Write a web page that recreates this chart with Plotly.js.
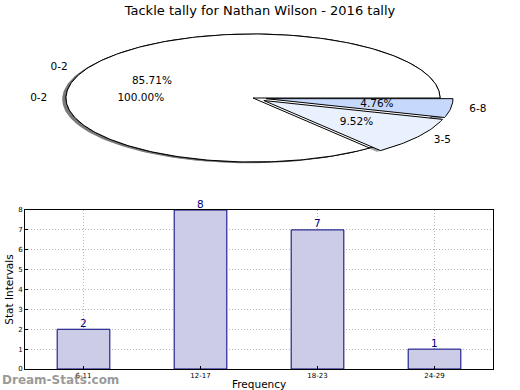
<!DOCTYPE html>
<html>
<head>
<meta charset="utf-8">
<script src="https://cdn.plot.ly/plotly-3.0.1.min.js"></script>
<style>html,body{margin:0;padding:0;background:#fff}#chart{width:520px;height:390px}</style>
</head>
<body>
<div id="chart"></div>
<script>
// ---- data ----
const pieLabels = ['0-2', '3-5', '6-8'];
const pieValues = [18, 2, 1];
const pie2Labels = ['0-2'];
const pie2Values = [1];
const barCategories = ['6-11', '12-17', '18-23', '24-29'];
const barValues = [2, 8, 7, 1];
const yTickValues = [0, 1, 2, 3, 4, 5, 6, 7, 8];
const xTitle = 'Frequency';
const yTitle = 'Stat Intervals';

// ---- styles ----
const pieColors = ['#ffffff', 'rgb(234,241,254)', 'rgb(198,217,253)'];
const pieExplode = [0, 0.07, 0.07];
const FONT = 'DejaVu Sans, sans-serif';

function wedgeTraces(labels, values, colors, explode) {
  const total = values.reduce((a, b) => a + b, 0);
  const shadows = [], wedges = [], texts = [];
  let start = 0;
  values.forEach((v, i) => {
    const frac = v / total;
    const t1 = start * 360, t2 = (start + frac) * 360;
    const mid = (t1 + t2) / 2 * Math.PI / 180;
    const e = explode ? explode[i] : 0;
    const ox = e * Math.cos(mid), oy = e * Math.sin(mid);
    const xs = [], ys = [];
    const full = frac >= 0.9999;
    if (!full) { xs.push(ox); ys.push(oy); }
    const n = Math.max(2, Math.ceil(t2 - t1));
    for (let k = 0; k <= n; k++) {
      const t = (t1 + (t2 - t1) * k / n) * Math.PI / 180;
      xs.push(ox + Math.cos(t)); ys.push(oy + Math.sin(t));
    }
    if (!full) { xs.push(ox); ys.push(oy); }
    const rgb = colors[i].match(/\d+/g);
    let shadowCol = 'rgba(77,77,77,0.5)';
    if (colors[i].startsWith('rgb')) {
      shadowCol = `rgba(${Math.round(rgb[0]*0.3)},${Math.round(rgb[1]*0.3)},${Math.round(rgb[2]*0.3)},0.5)`;
    }
    shadows.push({
      type: 'scatter', mode: 'lines', xaxis: 'x2', yaxis: 'y2',
      x: xs.map(x => x - 0.02), y: ys.map(y => y - 0.02), fill: 'toself',
      fillcolor: shadowCol, line: {width: 0, color: 'rgba(0,0,0,0)'},
      hoverinfo: 'skip', showlegend: false
    });
    wedges.push({
      type: 'scatter', mode: 'lines', xaxis: 'x2', yaxis: 'y2',
      x: xs, y: ys, fill: 'toself', fillcolor: colors[i],
      line: {width: 1, color: '#000'}, hoverinfo: 'skip', showlegend: false
    });
    const cm = Math.cos(mid), sm = Math.sin(mid);
    texts.push({
      type: 'scatter', mode: 'text', xaxis: 'x2', yaxis: 'y2',
      x: [ox + 1.1 * cm], y: [oy + 1.1 * sm], text: [labels[i]],
      textposition: cm < 0 ? 'middle left' : 'middle right',
      textfont: {family: FONT, size: 10.5, color: '#000'},
      cliponaxis: false, hoverinfo: 'skip', showlegend: false
    });
    texts.push({
      type: 'scatter', mode: 'text', xaxis: 'x2', yaxis: 'y2',
      x: [ox + 0.6 * cm], y: [oy + 0.6 * sm], text: [(frac * 100).toFixed(2) + '%'],
      textposition: 'middle center',
      textfont: {family: FONT, size: 10.5, color: '#000'},
      cliponaxis: false, hoverinfo: 'skip', showlegend: false
    });
    start += frac;
  });
  return {shadows, wedges, texts};
}

const p2 = wedgeTraces(pie2Labels, pie2Values, ['#ffffff'], null);
const p1 = wedgeTraces(pieLabels, pieValues, pieColors, pieExplode);

const barTrace = {
  type: 'bar', x: barCategories, y: barValues, width: 0.45,
  marker: {color: 'rgb(204,204,230)', line: {color: '#000080', width: 1}},
  hoverinfo: 'skip', showlegend: false
};

const data = [...p2.shadows, ...p1.shadows, ...p2.wedges, ...p1.wedges, ...p2.texts, ...p1.texts, barTrace];

const barLabels = barCategories.map((c, i) => ({
  text: String(barValues[i]), x: c, y: barValues[i], xref: 'x', yref: 'y',
  xanchor: 'center', yanchor: 'bottom', yshift: -1.5, showarrow: false,
  font: {family: FONT, size: 10.5, color: '#000080'}
}));

const gridDash = '1px,2px';
const layout = {
  width: 520, height: 390,
  margin: {l: 25, r: 27, t: 0, b: 21, pad: 0},
  paper_bgcolor: '#fff', plot_bgcolor: '#fff',
  font: {family: FONT, color: '#000'},
  title: {text: 'Tackle tally for Nathan Wilson - 2016 tally', x: 0.5, xanchor: 'center',
          y: 1 - 10 / 390, yref: 'container', yanchor: 'middle',
          font: {family: FONT, size: 13, color: '#000'}},
  xaxis: {
    domain: [0, 1], anchor: 'y', type: 'category', range: [-0.5, 3.5],
    showline: true, linecolor: '#000', linewidth: 1, mirror: true,
    ticks: 'inside', ticklen: 3, tickcolor: '#000',
    showgrid: true, gridcolor: '#b8b8b8', griddash: gridDash, gridwidth: 1,
    tickfont: {family: FONT, size: 7, color: '#000'},
    fixedrange: true, zeroline: false
  },
  yaxis: {
    domain: [0, (369 - 210) / 369], anchor: 'x', range: [0, 8],
    tickvals: yTickValues, ticktext: yTickValues.map(String),
    showline: true, linecolor: '#000', linewidth: 1, mirror: true,
    ticks: 'inside', ticklen: 3, tickcolor: '#000',
    showgrid: true, gridcolor: '#b8b8b8', griddash: gridDash, gridwidth: 1,
    tickfont: {family: FONT, size: 7, color: '#000'},
    title: {text: yTitle, font: {family: FONT, size: 10.5, color: '#000'}, standoff: 2},
    fixedrange: true, zeroline: false
  },
  xaxis2: {
    domain: [0, 1], anchor: 'y2', visible: false, fixedrange: true,
    range: [-(253 - 25) / 187, (493 - 253) / 187]
  },
  yaxis2: {
    domain: [0.45, 1], anchor: 'x2', visible: false, fixedrange: true,
    range: [-(369 * 0.55 - 98) / 64, 98 / 64]
  },
  annotations: [...barLabels, {
    text: xTitle, xref: 'paper', yref: 'paper', x: 0.5, y: (369 - 384) / 369,
    xanchor: 'center', yanchor: 'middle', showarrow: false,
    font: {family: FONT, size: 10.5, color: '#000'}
  }, {
    text: '<b>Dream-Stats.com</b>', xref: 'paper', yref: 'paper',
    x: -25 / 468, y: (369 - 380) / 369, xanchor: 'left', yanchor: 'middle',
    showarrow: false, font: {family: FONT, size: 12, color: 'rgba(120,120,120,0.75)'}
  }]
};

Plotly.newPlot('chart', data, layout, {staticPlot: true, displayModeBar: false});
</script>
</body>
</html>
